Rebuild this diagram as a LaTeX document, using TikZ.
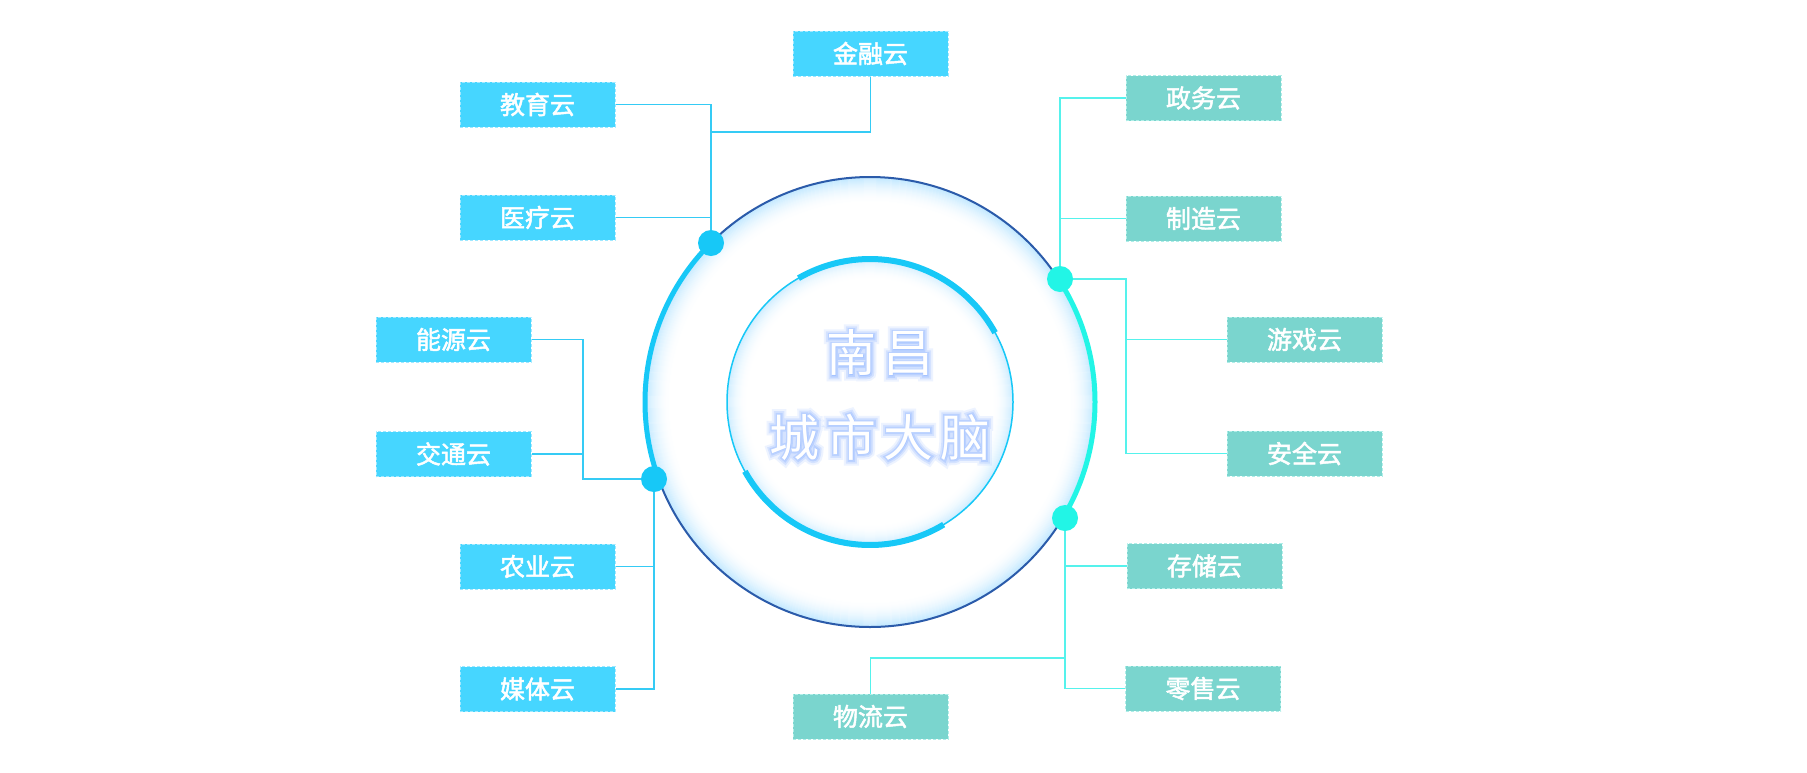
\documentclass[tikz,border=0pt]{standalone}
\usepackage{fontspec}
\setmainfont{Noto Sans CJK SC}
\newfontfamily\bigcjk[LetterSpace=14]{Noto Sans CJK SC}
\newfontfamily\glowa[LetterSpace=14,FakeBold=22]{Noto Sans CJK SC}
\newfontfamily\glowb[LetterSpace=14,FakeBold=14]{Noto Sans CJK SC}
\newfontfamily\glowc[LetterSpace=14,FakeBold=7]{Noto Sans CJK SC}
\newfontfamily\labelfont[FakeBold=2]{Noto Sans CJK SC}
\usetikzlibrary{calc}
\definecolor{cyanbox}{HTML}{46D6FF}
\definecolor{tealbox}{HTML}{7AD5CE}
\definecolor{cyanedge}{HTML}{A0E8FF}
\definecolor{tealedge}{HTML}{B0EEE8}
\definecolor{cyanline}{HTML}{35CBF5}
\definecolor{tealline}{HTML}{55F2EC}
\definecolor{ringdark}{HTML}{2B5BAA}
\definecolor{arccyan}{HTML}{17C8F7}
\definecolor{arcteal}{HTML}{22F5E6}
\definecolor{ringglow}{HTML}{78CDFF}
\definecolor{textglow}{HTML}{9CBEFF}
\begin{document}
\begin{tikzpicture}[x=1pt,y=-1pt,
  boxbase/.style={rectangle, minimum width=155pt, minimum height=45pt, inner sep=0pt,
    text=white, font=\labelfont\fontsize{25}{25}\selectfont, line width=1pt, dash pattern=on 3pt off 2pt},
  lbox/.style={boxbase, fill=cyanbox, draw=cyanedge},
  rbox/.style={boxbase, fill=tealbox, draw=tealedge},
  lline/.style={draw=cyanline, line width=1.3pt},
  rline/.style={draw=tealline, line width=1.3pt},
  ldot/.style={circle, fill=arccyan, minimum size=26pt, inner sep=0pt},
  rdot/.style={circle, fill=arcteal, minimum size=26pt, inner sep=0pt},
  bigtext/.style={font=\bigcjk\fontsize{50}{50}\selectfont, inner sep=0pt, text=white},
  glowA/.style={font=\glowa\fontsize{50}{50}\selectfont, inner sep=0pt, text=textglow, opacity=0.18},
  glowB/.style={font=\glowb\fontsize{50}{50}\selectfont, inner sep=0pt, text=textglow, opacity=0.3},
  glowC/.style={font=\glowc\fontsize{50}{50}\selectfont, inner sep=0pt, text=textglow, opacity=0.45},
]
\useasboundingbox (0,0) rectangle (1807,772);
\fill[white] (0,0) rectangle (1807,772);

\coordinate (c) at (870,402);
% glow of the outer ring
\foreach \i in {0,...,26}{
  \pgfmathsetmacro\p{45*(1-\i/26)^2}
  \draw[ringglow!\p!white, line width=1.3pt] (c) circle[radius=224pt-\i*1pt];
}
% glow of the inner ring
\foreach \i in {0,...,20}{
  \pgfmathsetmacro\p{35*(1-\i/20)^2}
  \draw[ringglow!\p!white, line width=1.3pt] (c) circle[radius=142pt-\i*1pt];
}
% rings
\draw[ringdark, line width=2pt] (c) circle[radius=225pt];
\draw[arccyan, line width=1.5pt] (c) circle[radius=143pt];
\draw[arccyan, line width=5pt] ($(c)+(135:225pt)$) arc[start angle=135, end angle=199, radius=225pt];
\draw[arcteal, line width=5pt] ($(c)+(-31:225pt)$) arc[start angle=-31, end angle=33, radius=225pt];
\draw[arccyan, line width=6pt] ($(c)+(29:143pt)$) arc[start angle=29, end angle=120, radius=143pt];
\draw[arccyan, line width=6pt] ($(c)+(209:143pt)$) arc[start angle=209, end angle=301, radius=143pt];

% boxes
\node[lbox] (jr)  at (870.5,53.5)  {金融云};
\node[lbox] (jy)  at (537.5,104.5) {教育云};
\node[lbox] (yl)  at (537.5,217.5) {医疗云};
\node[lbox] (ny)  at (453.5,339.5) {能源云};
\node[lbox] (jt)  at (453.5,454)   {交通云};
\node[lbox] (nyy) at (537.5,566.5) {农业云};
\node[lbox] (mt)  at (537.5,689)   {媒体云};
\node[rbox] (zw)  at (1203.5,98)   {政务云};
\node[rbox] (zz)  at (1203.5,218.5){制造云};
\node[rbox] (yx)  at (1304.5,339.5){游戏云};
\node[rbox] (aq)  at (1304.5,453.5){安全云};
\node[rbox] (cc)  at (1204.5,566)  {存储云};
\node[rbox] (ls)  at (1203,688.5)  {零售云};
\node[rbox] (wl)  at (870.5,716.5) {物流云};

% junction points
\coordinate (j1) at (711,132);
\coordinate (k2) at (583,479);
\coordinate (k3) at (1126,279);
\coordinate (k4) at (1065,658);
\coordinate (p1) at (711,243);
\coordinate (p2) at (654,479);
\coordinate (p3) at (1060,279);
\coordinate (p4) at (1065,518);

% connectors
\draw[lline] (jy.east) -| (p1);
\draw[lline] (yl.east) -- (yl.east -| p1);
\draw[lline] (jr.south) |- (j1);
\draw[lline] (ny.east) -| (k2) -- (p2);
\draw[lline] (jt.east) -- (jt.east -| k2);
\draw[lline] (p2) |- (mt.east);
\draw[lline] (nyy.east) -- (nyy.east -| p2);
\draw[rline] (zw.west) -| (p3);
\draw[rline] (zz.west) -- (zz.west -| p3);
\draw[rline] (p3) -- (k3) |- (aq.west);
\draw[rline] (yx.west) -- (yx.west -| k3);
\draw[rline] (p4) |- (ls.west);
\draw[rline] (cc.west) -- (cc.west -| p4);
\draw[rline] (wl.north) |- (k4);

% dots
\node[ldot] (d1) at (p1) {};
\node[ldot] (d2) at (p2) {};
\node[rdot] (d3) at (p3) {};
\node[rdot] (d4) at (p4) {};

% centre title with glow
\coordinate (q1) at (880,353);
\coordinate (q2) at (880,437);
\node[glowA] (ga1) at (q1) {南昌};
\node[glowA] (ga2) at (q2) {城市大脑};
\node[glowB] (gb1) at (q1) {南昌};
\node[glowB] (gb2) at (q2) {城市大脑};
\node[glowC] (gc1) at (q1) {南昌};
\node[glowC] (gc2) at (q2) {城市大脑};
\node[bigtext] (t1) at (q1) {南昌};
\node[bigtext] (t2) at (q2) {城市大脑};
\end{tikzpicture}
\end{document}
